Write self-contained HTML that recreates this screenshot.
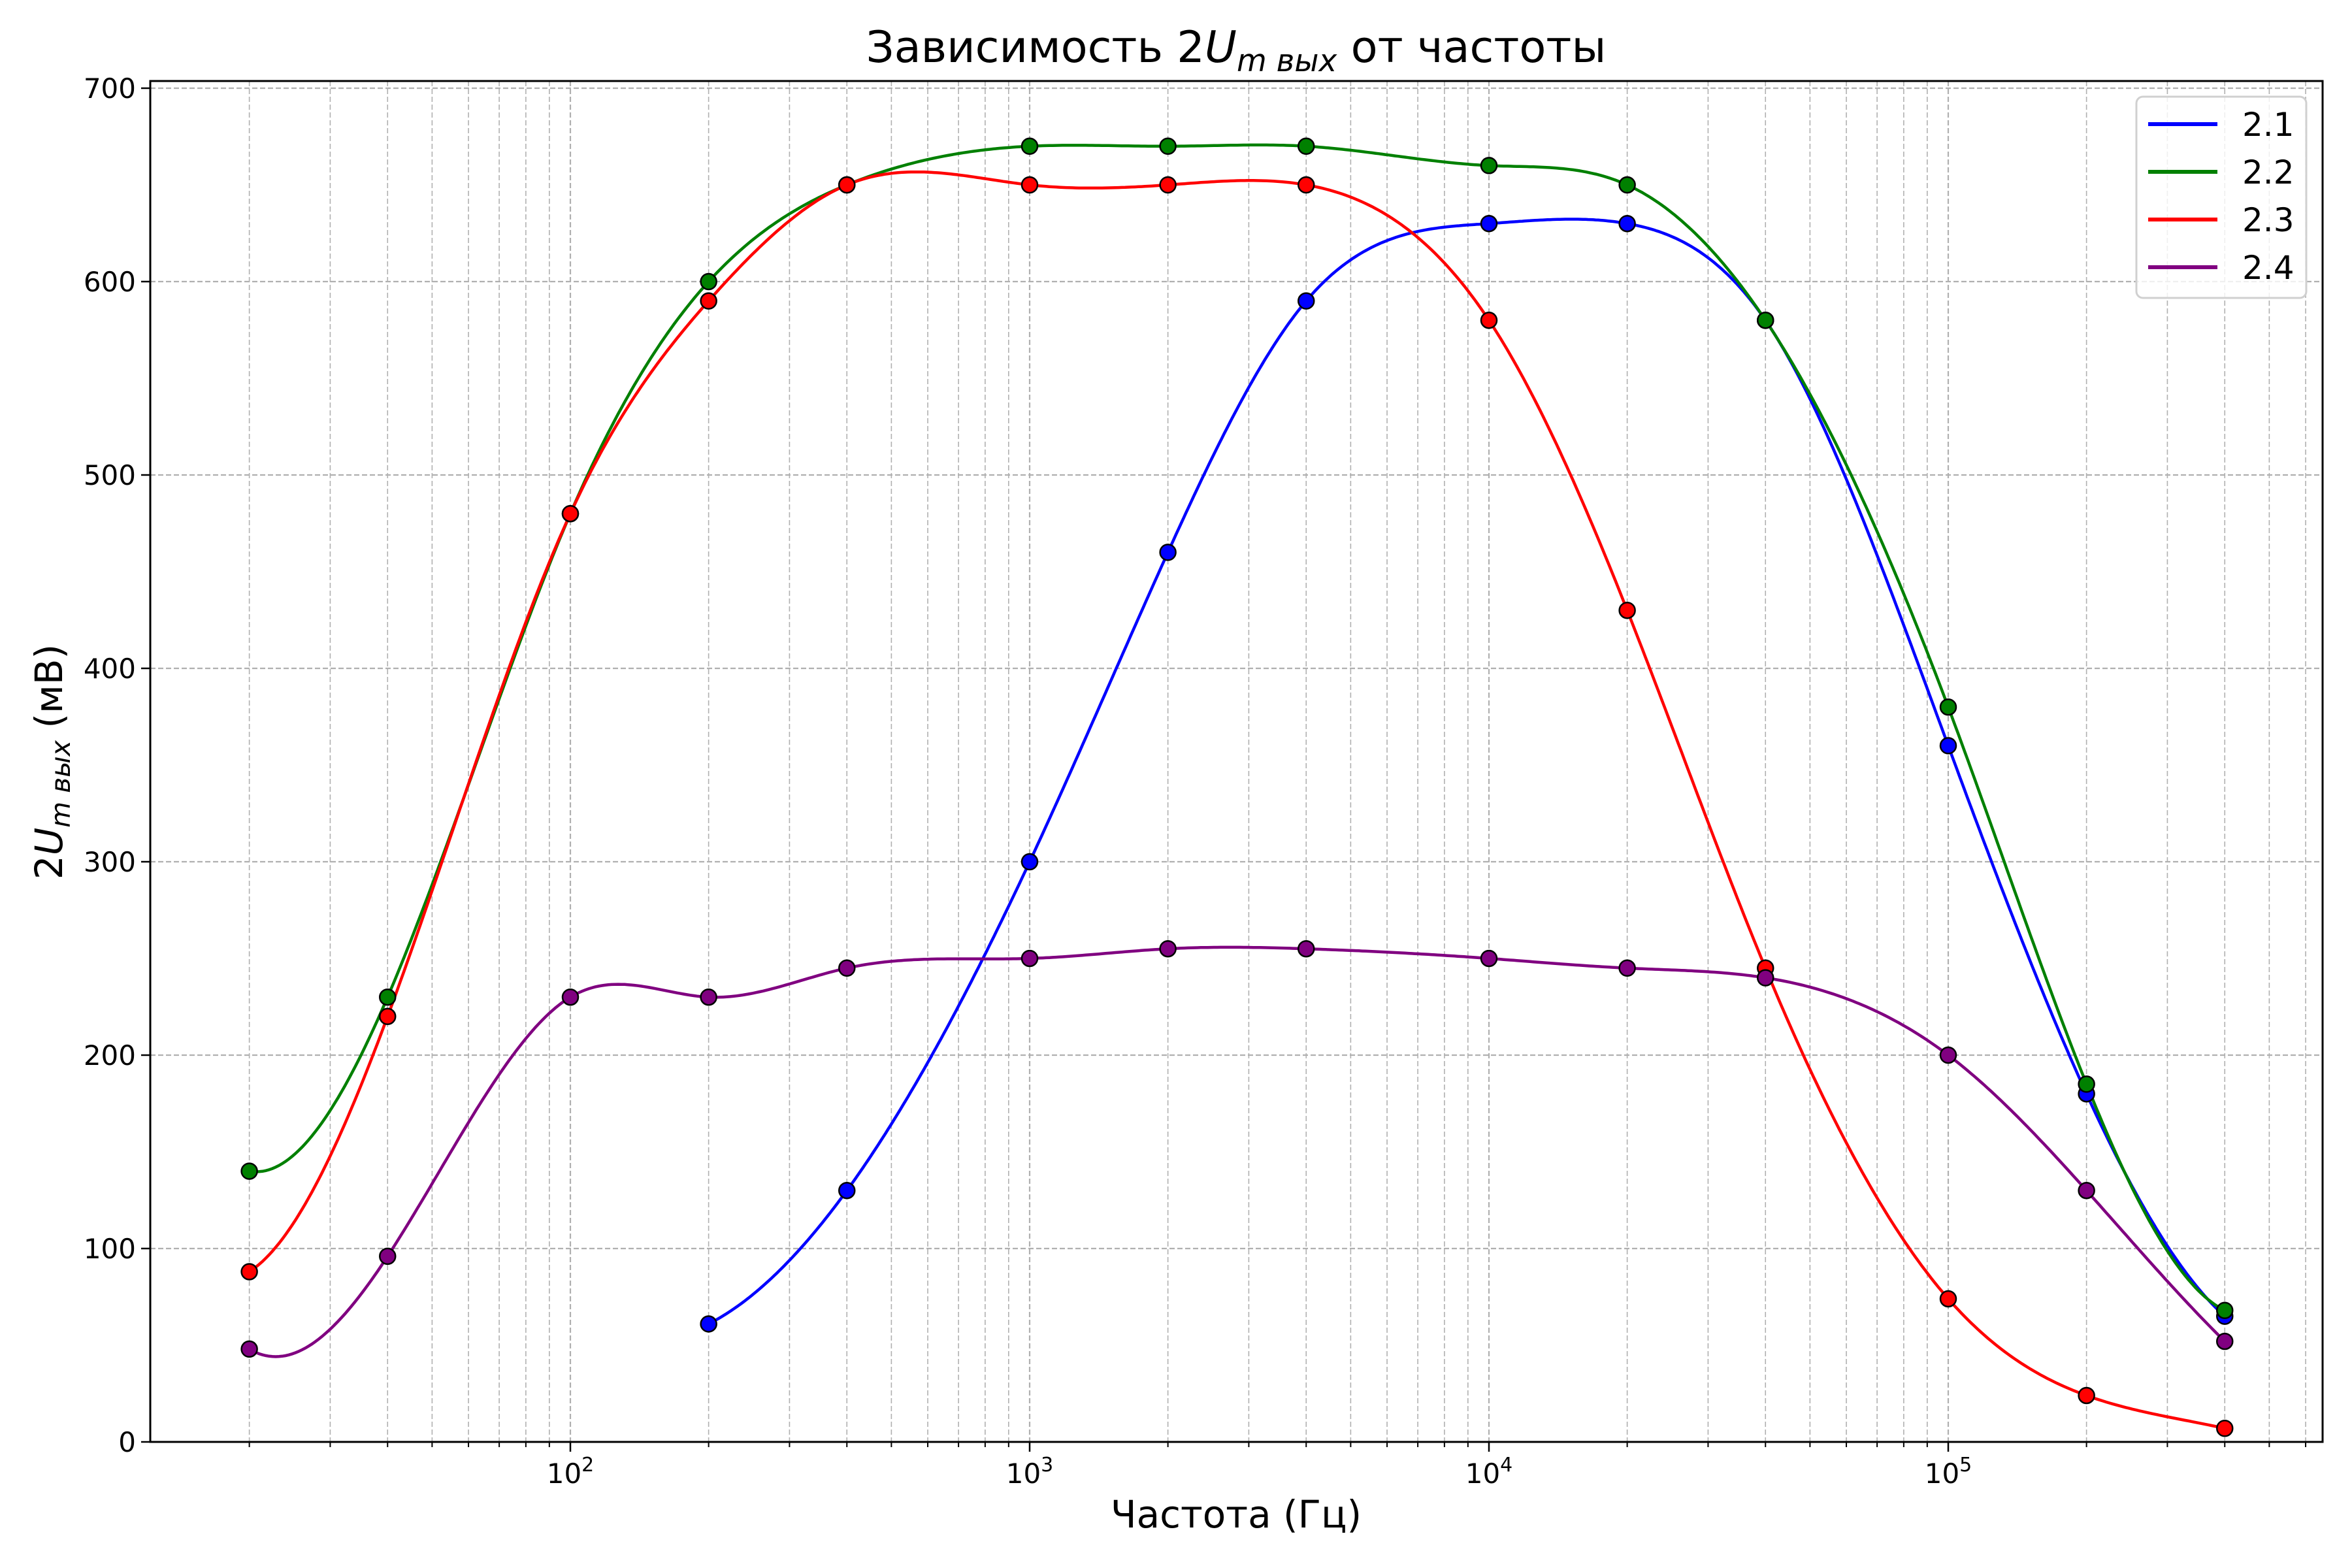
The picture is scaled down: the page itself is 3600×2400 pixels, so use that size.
<!DOCTYPE html>
<html><head><meta charset="utf-8"><style>
html,body{margin:0;padding:0;background:#fff}
svg{display:block}
text{font-family:"DejaVu Sans","Liberation Sans",sans-serif;fill:#000}
</style></head><body>
<svg id="s" width="3600" height="2400" viewBox="0 0 3600 2400" xmlns="http://www.w3.org/2000/svg">
<rect width="3600" height="2400" fill="#fff"/>
<g id="grid"></g>
<g id="curves"></g>
<g id="marks"></g>
<rect x="230" y="124" width="3325" height="2083" fill="none" stroke="#000" stroke-width="3"/>
<g id="ticks"></g>
<g font-size="42" text-anchor="end">
<text x="208" y="2222">0</text>
<text x="208" y="1926">100</text>
<text x="208" y="1630">200</text>
<text x="208" y="1334">300</text>
<text x="208" y="1038">400</text>
<text x="208" y="742">500</text>
<text x="208" y="446">600</text>
<text x="208" y="150">700</text>
</g>
<g font-size="42" text-anchor="middle">
<text x="873" y="2270">10<tspan font-size="30" dy="-18">2</tspan></text>
<text x="1576" y="2270">10<tspan font-size="30" dy="-18">3</tspan></text>
<text x="2279" y="2270">10<tspan font-size="30" dy="-18">4</tspan></text>
<text x="2982" y="2270">10<tspan font-size="30" dy="-18">5</tspan></text>
</g>
<text x="1892" y="95" font-size="67" text-anchor="middle">Зависимость 2<tspan font-style="italic">U</tspan><tspan font-style="italic" font-size="47" dy="14">m вых</tspan><tspan dy="-14"> от частоты</tspan></text>
<text x="1892" y="2338" font-size="58" text-anchor="middle">Частота (Гц)</text>
<text transform="translate(95,1166) rotate(-90)" font-size="58" text-anchor="middle">2<tspan font-style="italic">U</tspan><tspan font-style="italic" font-size="41" dy="12">m вых</tspan><tspan dy="-12"> (мВ)</tspan></text>
<rect x="1270" y="148" width="260" height="308" rx="10" ry="10" fill="#fff" fill-opacity="0.8" stroke="#d0d0d0" stroke-width="3" transform="translate(2000,0)"/>
<g stroke-width="6">
<line x1="3288" y1="190" x2="3394" y2="190" stroke="#0000ff"/>
<line x1="3288" y1="263" x2="3394" y2="263" stroke="#008000"/>
<line x1="3288" y1="336" x2="3394" y2="336" stroke="#ff0000"/>
<line x1="3288" y1="409" x2="3394" y2="409" stroke="#800080"/>
</g>
<g font-size="50">
<text x="3432" y="208">2.1</text>
<text x="3432" y="281">2.2</text>
<text x="3432" y="354">2.3</text>
<text x="3432" y="427">2.4</text>
</g>
</svg>
<script>
var NS="http://www.w3.org/2000/svg";
function X(f){return 873+(Math.log10(f)-2)*703;}
function Y(v){return 2207-v*2960/1000*1.0;}
function el(p,t,a){var e=document.createElementNS(NS,t);for(var k in a)e.setAttribute(k,a[k]);document.getElementById(p).appendChild(e);return e;}
// grid
for(var v=0;v<=700;v+=100){el("grid","line",{x1:230,x2:3555,y1:Y(v),y2:Y(v),stroke:"#b0b0b0","stroke-width":2.2,"stroke-dasharray":"8,4"});
 el("ticks","line",{x1:216,x2:230,y1:Y(v),y2:Y(v),stroke:"#000","stroke-width":2.5});}
for(var d=1;d<=5;d++){for(var m=1;m<=9;m++){var f=m*Math.pow(10,d);var x=X(f);if(x<232||x>3553)continue;
 el("grid","line",{x1:x,x2:x,y1:124,y2:2207,stroke:"#b0b0b0","stroke-width":m==1?2.2:1.6,"stroke-dasharray":"8,4"});
 el("ticks","line",{x1:x,x2:x,y1:2207,y2:m==1?2222:2215,stroke:"#000","stroke-width":m==1?2.5:2});}}
function spline(xs,ys){var n=xs.length,h=[];for(var i=0;i<n-1;i++)h.push(xs[i+1]-xs[i]);
 var A=[],b=[];for(i=0;i<n;i++){A.push(new Array(n).fill(0));b.push(0);}
 A[0][0]=h[1];A[0][1]=-(h[0]+h[1]);A[0][2]=h[0];
 A[n-1][n-3]=h[n-2];A[n-1][n-2]=-(h[n-3]+h[n-2]);A[n-1][n-1]=h[n-3];
 for(i=1;i<n-1;i++){A[i][i-1]=h[i-1];A[i][i]=2*(h[i-1]+h[i]);A[i][i+1]=h[i];b[i]=6*((ys[i+1]-ys[i])/h[i]-(ys[i]-ys[i-1])/h[i-1]);}
 for(var c=0;c<n;c++){var p=c;for(var r=c+1;r<n;r++)if(Math.abs(A[r][c])>Math.abs(A[p][c]))p=r;
  var t=A[c];A[c]=A[p];A[p]=t;t=b[c];b[c]=b[p];b[p]=t;
  for(r=c+1;r<n;r++){var q=A[r][c]/A[c][c];for(var k=c;k<n;k++)A[r][k]-=q*A[c][k];b[r]-=q*b[c];}}
 var M=new Array(n);for(i=n-1;i>=0;i--){var s=b[i];for(k=i+1;k<n;k++)s-=A[i][k]*M[k];M[i]=s/A[i][i];}
 return function(x){var i=0;while(i<n-2&&x>xs[i+1])i++;var a=xs[i+1]-x,bb=x-xs[i],hh=h[i];
  return M[i]*a*a*a/(6*hh)+M[i+1]*bb*bb*bb/(6*hh)+(ys[i]/hh-M[i]*hh/6)*a+(ys[i+1]/hh-M[i+1]*hh/6)*bb;};}
var F=[20,40,100,200,400,1000,2000,4000,10000,20000,40000,100000,200000,400000];
var S=[
 {c:"#0000ff",f:F.slice(3),v:[61,130,300,460,590,630,630,580,360,180,65]},
 {c:"#008000",f:F,v:[140,230,480,600,650,670,670,670,660,650,580,380,185,68]},
 {c:"#ff0000",f:F,v:[88,220,480,590,650,650,650,650,580,430,245,74,24,7]},
 {c:"#800080",f:F,v:[48,96,230,230,245,250,255,255,250,245,240,200,130,52]}];
S.forEach(function(s){var xs=s.f.map(function(f){return Math.log10(f)});var sp=spline(xs,s.v);
 var a=xs[0],z=xs[xs.length-1],d="";for(var i=0;i<=600;i++){var x=a+(z-a)*i/600;d+=(i?"L":"M")+(873+(x-2)*703).toFixed(1)+","+Y(sp(x)).toFixed(1);}
 el("curves","path",{d:d,fill:"none",stroke:s.c,"stroke-width":4.5});
 s.f.forEach(function(f,j){el("marks","circle",{cx:X(f),cy:Y(s.v[j]),r:12,fill:s.c,stroke:"#000","stroke-width":2.5});});});
</script>
</body></html>
